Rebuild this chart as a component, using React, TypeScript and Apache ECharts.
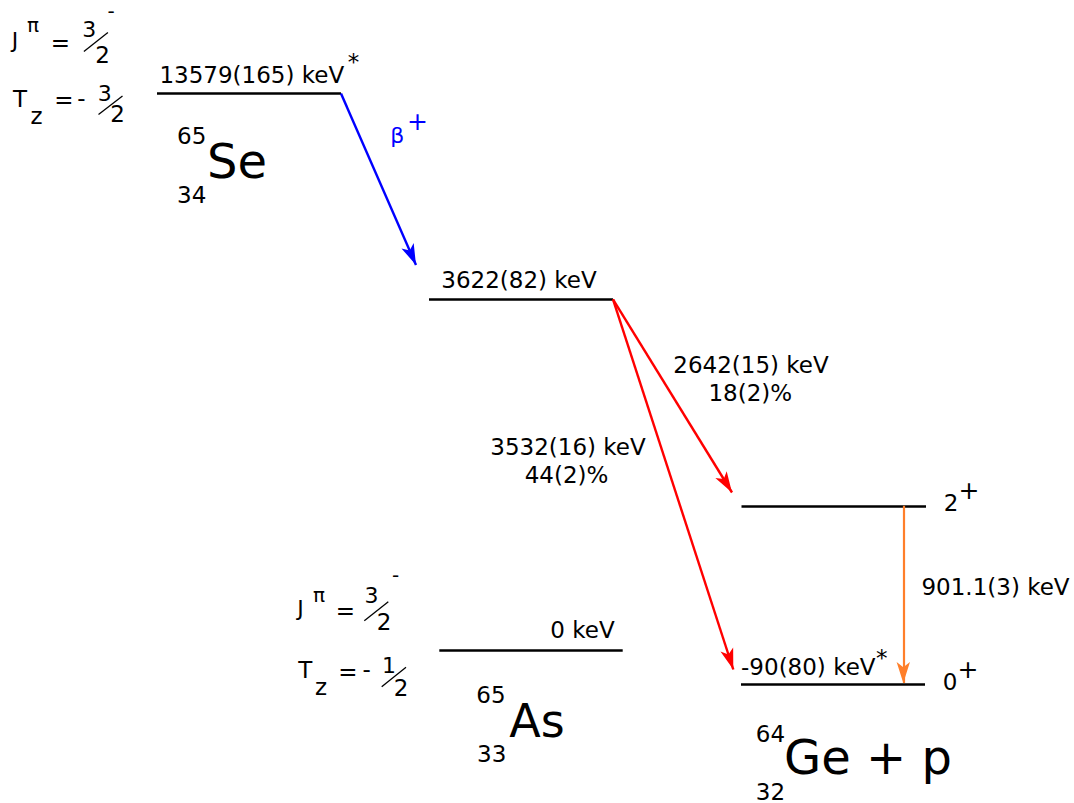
import React, { useEffect, useRef } from "react";
import * as echarts from "echarts";

// ---- Levels (schematic level scheme: horizontal placement and drawing height) ----
const levelNames = ["65Se g.s.", "65As IAS", "64Ge 2+ + p", "64Ge 0+ + p", "65As g.s."];
const levelEnergyLabels = ["13579(165) keV", "3622(82) keV", "", "-90(80) keV", "0 keV"];
const levelHeight = [93.5, 299.3, 505.8, 684, 650];
const levelStart = [157, 429, 741.5, 741, 439.3];
const levelEnd = [341, 613, 926, 925, 622.7];

// ---- Transitions ----
const transitionNames = ["beta+", "p to 2+", "p to 0+", "gamma"];
const transitionEnergyLabels = ["", "2642(15) keV", "3532(16) keV", "901.1(3) keV"];
const transitionBranchLabels = ["", "18(2)%", "44(2)%", ""];
const transitionFromLevel = [0, 1, 1, 2];
const transitionFromX = [341, 613, 613, 903.3];
const transitionToX = [416, 732, 733.3, 903.3];
const transitionToHeight = [265, 492.5, 669.5, 683];
const transitionColors = ["#0000ff", "#ff0000", "#ff0000", "#ff7f2a"];

// ---- Nuclei ----
const nucleusSymbols = ["Se", "As", "Ge + p"];
const nucleusMass = ["65", "65", "64"];
const nucleusZ = ["34", "33", "32"];

// ---- Spin-parity / isospin projection ----
const spinNum = ["3", "3"];
const spinDen = ["2", "2"];
const spinParity = ["-", "-"];
const tzSign = ["-", "-"];
const tzNum = ["3", "1"];
const tzDen = ["2", "2"];
const finalSpins = ["2", "0"];
const finalParities = ["+", "+"];

const FONT = "DejaVu Sans";
const ARROW_W = 10;
const ARROW_LEN = 21;

type TextItem = { t: string; x: number; y: number; s: number; c?: string };

function buildTexts(): TextItem[] {
  const T: TextItem[] = [];
  // level energy labels
  T.push({ t: levelEnergyLabels[0], x: 251.8, y: 75, s: 23 });
  T.push({ t: "*", x: 353.5, y: 61.5, s: 23 });
  T.push({ t: levelEnergyLabels[1], x: 519, y: 279.5, s: 23 });
  T.push({ t: levelEnergyLabels[3], x: 808.3, y: 666.5, s: 23 });
  T.push({ t: "*", x: 881.7, y: 657.5, s: 23 });
  T.push({ t: levelEnergyLabels[4], x: 582.5, y: 629.5, s: 23 });
  // transitions
  T.push({ t: "β", x: 397.3, y: 135.5, s: 22, c: transitionColors[0] });
  T.push({ t: "+", x: 417.5, y: 121, s: 25, c: transitionColors[0] });
  T.push({ t: transitionEnergyLabels[1], x: 751, y: 364.5, s: 23 });
  T.push({ t: transitionBranchLabels[1], x: 750.3, y: 392.5, s: 23 });
  T.push({ t: transitionEnergyLabels[2], x: 568, y: 446.5, s: 23 });
  T.push({ t: transitionBranchLabels[2], x: 566.5, y: 475.3, s: 23 });
  T.push({ t: transitionEnergyLabels[3], x: 995.5, y: 587, s: 23 });
  // final state spins
  T.push({ t: finalSpins[0], x: 951, y: 503.3, s: 23 });
  T.push({ t: finalParities[0], x: 969, y: 490.5, s: 25 });
  T.push({ t: finalSpins[1], x: 950, y: 681.5, s: 23 });
  T.push({ t: finalParities[1], x: 968, y: 669.2, s: 25 });
  // nuclei
  T.push({ t: nucleusMass[0], x: 191.7, y: 135.5, s: 23 });
  T.push({ t: nucleusSymbols[0], x: 237, y: 161.4, s: 48 });
  T.push({ t: nucleusZ[0], x: 191.7, y: 195.3, s: 23 });
  T.push({ t: nucleusMass[1], x: 491, y: 695.3, s: 23 });
  T.push({ t: nucleusSymbols[1], x: 537, y: 720.9, s: 46 });
  T.push({ t: nucleusZ[1], x: 491.7, y: 754.2, s: 23 });
  T.push({ t: nucleusMass[2], x: 770.5, y: 734.2, s: 23 });
  T.push({ t: nucleusSymbols[2], x: 868, y: 756.7, s: 48 });
  T.push({ t: nucleusZ[2], x: 770.5, y: 791.5, s: 23 });
  // J^pi / Tz blocks
  const blocks = [
    { J: [15, 40.1], pi: [33, 25], eq: [60.5, 43], num: [89.2, 29.5], den: [102.5, 55], par: [111, 10.5],
      T: [20, 98.5], z: [36.5, 115.5], eq2: [64, 99.5], sg: [81.3, 98.3], num2: [104.7, 93], den2: [117.5, 114] },
    { J: [300.5, 608.4], pi: [319, 594.6], eq: [345.5, 611.3], num: [371.5, 595], den: [384, 621.7], par: [395.5, 575.2],
      T: [305.3, 670], z: [321, 687.3], eq2: [348, 671.7], sg: [366.7, 669.3], num2: [389, 665], den2: [401, 687.5] },
  ];
  blocks.forEach((b, i) => {
    T.push({ t: "J", x: b.J[0], y: b.J[1], s: 22 });
    T.push({ t: "π", x: b.pi[0], y: b.pi[1], s: 20 });
    T.push({ t: "=", x: b.eq[0], y: b.eq[1], s: 23 });
    T.push({ t: spinNum[i], x: b.num[0], y: b.num[1], s: 22 });
    T.push({ t: spinDen[i], x: b.den[0], y: b.den[1], s: 23 });
    T.push({ t: spinParity[i], x: b.par[0], y: b.par[1], s: 20 });
    T.push({ t: "T", x: b.T[0], y: b.T[1], s: 23 });
    T.push({ t: "z", x: b.z[0], y: b.z[1], s: 23 });
    T.push({ t: "=", x: b.eq2[0], y: b.eq2[1], s: 23 });
    T.push({ t: tzSign[i], x: b.sg[0], y: b.sg[1], s: 23 });
    T.push({ t: tzNum[i], x: b.num2[0], y: b.num2[1], s: 22 });
    T.push({ t: tzDen[i], x: b.den2[0], y: b.den2[1], s: 23 });
  });
  return T;
}

const fractionSlashes = [
  [[83.9, 51.6], [107.9, 32.6]],
  [[98.5, 114.5], [122.5, 96]],
  [[364.3, 620.7], [388.3, 601.7]],
  [[381.7, 686.7], [406, 667.3]],
];

export default function App() {
  const ref = useRef<HTMLDivElement>(null);
  useEffect(() => {
    if (!ref.current) return;
    const chart = echarts.init(ref.current, undefined, { renderer: "svg" });

    const levelData = levelNames.map((n, i) => ({
      name: n,
      coords: [[levelStart[i], levelHeight[i]], [levelEnd[i], levelHeight[i]]],
    }));

    const arrowSeries = transitionNames.map((n, i) => {
      const x0 = transitionFromX[i];
      const y0 = levelHeight[transitionFromLevel[i]];
      const x1 = transitionToX[i];
      const y1 = transitionToHeight[i];
      return {
        type: "lines",
        name: n,
        coordinateSystem: "cartesian2d",
        symbol: ["none", "arrow"],
        symbolSize: [0, [ARROW_W, ARROW_LEN]],
        silent: true,
        lineStyle: { color: transitionColors[i], width: i === 3 ? 2.2 : 2.4, opacity: 1 },
        data: [{ coords: [[x0, y0], [x1, y1]] }],
        z: 3,
      };
    });

    const texts = buildTexts();

    chart.setOption({
      animation: false,
      backgroundColor: "#ffffff",
      grid: { left: 0, right: 0, top: 0, bottom: 0 },
      xAxis: { type: "value", min: 0, max: 1074, show: false },
      yAxis: { type: "value", min: 0, max: 803, inverse: true, show: false },
      series: [
        {
          type: "lines",
          name: "levels",
          coordinateSystem: "cartesian2d",
          symbol: ["none", "none"],
          silent: true,
          lineStyle: { color: "#000000", width: 2.6, opacity: 1 },
          data: levelData,
          z: 2,
        },
        {
          type: "lines",
          name: "fractions",
          coordinateSystem: "cartesian2d",
          symbol: ["none", "none"],
          silent: true,
          lineStyle: { color: "#000000", width: 1.3, opacity: 1 },
          data: fractionSlashes.map((c) => ({ coords: c })),
          z: 2,
        },
        ...arrowSeries,
        {
          type: "scatter",
          name: "texts",
          symbolSize: 1,
          silent: true,
          clip: false,
          itemStyle: { color: "transparent", opacity: 1 },
          data: texts.map((t) => ({
            value: [t.x, t.y],
            label: {
              show: true,
              position: "inside",
              formatter: t.t,
              fontFamily: FONT,
              fontSize: t.s,
              color: t.c || "#000000",
              opacity: 1,
              align: "center",
              verticalAlign: "middle",
            },
          })),
          z: 4,
        },
      ],
    });
    return () => chart.dispose();
  }, []);
  return (
    <div
      ref={ref}
      style={{ position: "absolute", left: 0, top: 0, width: 1074, height: 803, background: "#fff" }}
    />
  );
}
